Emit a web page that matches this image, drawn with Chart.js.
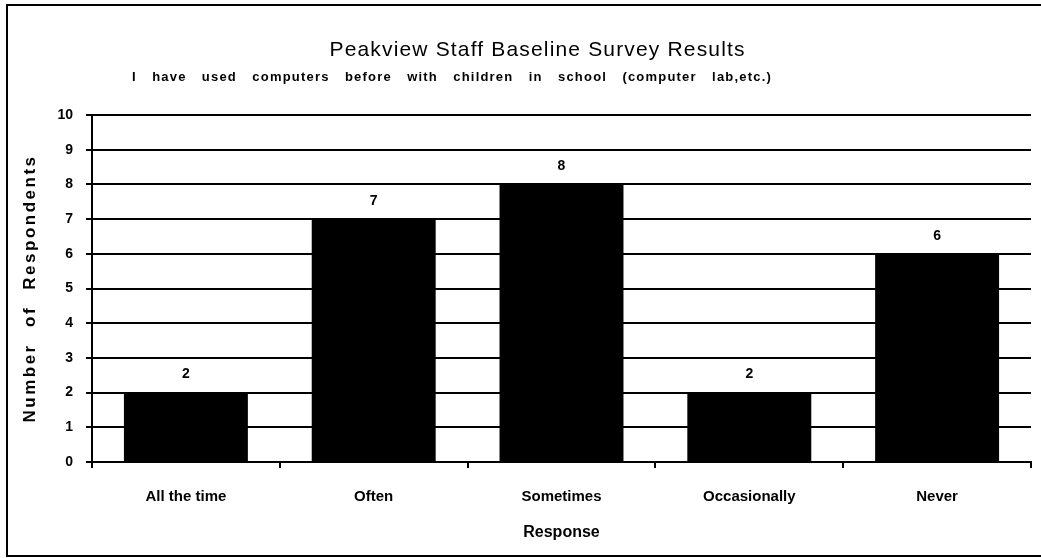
<!DOCTYPE html>
<html>
<head>
<meta charset="utf-8">
<script src="https://cdn.jsdelivr.net/npm/chart.js@4"></script>
<style>
  html, body { margin: 0; padding: 0; background: #fff; overflow: hidden; }
  #frame { position: absolute; left: 6px; top: 4px; width: 1100px; height: 549px; border: 2px solid #000; }
  #wrap { position: absolute; left: 0; top: 0; width: 1041px; height: 558px; }
</style>
</head>
<body>
<div id="frame"></div>
<div id="wrap"><canvas id="survey"></canvas></div>
<script>
var title = 'Peakview Staff Baseline Survey Results';
var subtitle = 'I have used computers before with children in school (computer lab,etc.)';
var yTitle = 'Number of Respondents';
var xTitle = 'Response';
var categories = ['All the time', 'Often', 'Sometimes', 'Occasionally', 'Never'];
var counts = [2, 7, 8, 2, 6];

var FONT = '"Liberation Sans", Arial, Helvetica, sans-serif';

// draw text stretched to a target width (the scan has wide letter / word spacing)
function spaced(ctx, text, font, width, mode, baseLetter) {
  ctx.font = font;
  ctx.letterSpacing = (baseLetter || 0) + 'px';
  ctx.wordSpacing = '0px';
  var w = ctx.measureText(text).width;
  if (mode === 'word') {
    ctx.wordSpacing = ((width - w) / (text.split(' ').length - 1)) + 'px';
  } else {
    ctx.letterSpacing = ((width - w) / (text.length - 1)) + 'px';
  }
  ctx.textAlign = 'left';
  ctx.textBaseline = 'middle';
  ctx.fillText(text, -width / 2, 0);
}

var scanText = {
  id: 'scanText',
  afterDatasetsDraw: function(chart) {
    var ctx = chart.ctx;
    ctx.save();
    ctx.fillStyle = '#000';

    // bar value labels
    ctx.font = 'bold 14px ' + FONT;
    ctx.textAlign = 'center';
    ctx.textBaseline = 'middle';
    chart.getDatasetMeta(0).data.forEach(function(bar, i) {
      ctx.fillText(String(counts[i]), bar.x, bar.y - 18);
    });

    ctx.save();
    ctx.translate(537, 50);
    spaced(ctx, title, '21px ' + FONT, 415, 'letter');
    ctx.restore();

    ctx.save();
    ctx.translate(452, 77);
    spaced(ctx, subtitle, 'bold 13px ' + FONT, 640, 'word', 1.2);
    ctx.restore();

    ctx.save();
    ctx.translate(30, (chart.chartArea.top + chart.chartArea.bottom) / 2);
    ctx.rotate(-Math.PI / 2);
    spaced(ctx, yTitle, 'bold 17px ' + FONT, 268, 'word', 2.5);
    ctx.restore();

    ctx.restore();
  }
};

var ctx = document.getElementById('survey').getContext('2d');

var myChart = new Chart(ctx, {
  type: 'bar',
  data: {
    labels: categories,
    datasets: [{
      data: counts,
      backgroundColor: '#000',
      borderWidth: 0,
      barPercentage: 0.66,
      categoryPercentage: 1
    }]
  },
  options: {
    responsive: true,
    maintainAspectRatio: false,
    animation: false,
    devicePixelRatio: 1,
    layout: { padding: { top: 115, right: 10, left: 0, bottom: 0 } },
    plugins: {
      legend: { display: false },
      tooltip: { enabled: false }
    },
    scales: {
      x: {
        afterFit: function(scale) { scale.height = 96; },
        grid: {
          offset: true,
          drawOnChartArea: false,
          drawTicks: true,
          tickLength: 6,
          color: '#000',
          lineWidth: 2
        },
        border: { color: '#000', width: 2 },
        ticks: {
          color: '#000',
          padding: 20,
          font: { family: FONT, size: 15, weight: 'bold' }
        },
        title: {
          display: true,
          text: xTitle,
          color: '#000',
          padding: { top: 0, bottom: 16 },
          font: { family: FONT, size: 16, weight: 'bold' }
        }
      },
      y: {
        min: 0,
        max: 10,
        afterFit: function(scale) { scale.width = 92; },
        grid: {
          color: '#000',
          lineWidth: 2,
          tickLength: 6
        },
        border: { color: '#000', width: 2 },
        ticks: {
          stepSize: 1,
          color: '#000',
          padding: 13,
          font: { family: FONT, size: 14, weight: 'bold' }
        }
      }
    }
  },
  plugins: [scanText]
});
</script>
</body>
</html>
